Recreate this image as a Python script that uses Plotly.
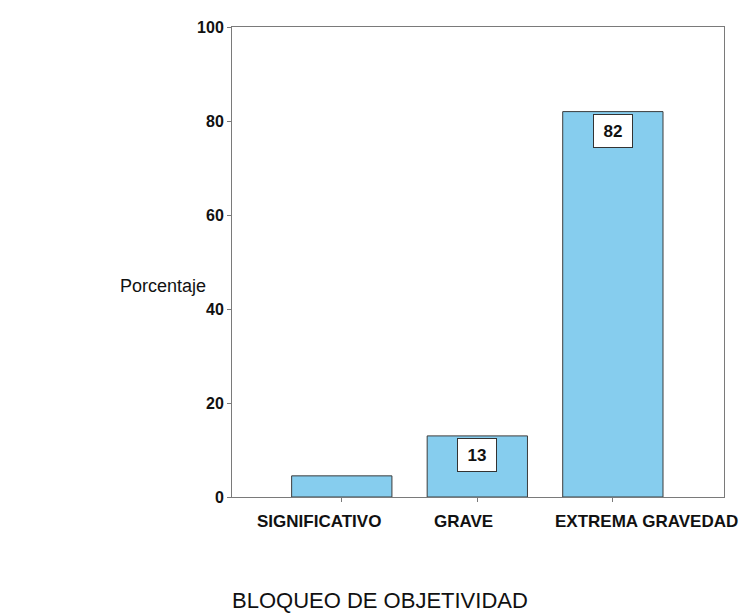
import plotly.graph_objects as go

categories = ['SIGNIFICATIVO', 'GRAVE', 'EXTREMA GRAVEDAD']
values = [4.5, 13, 82]
bar_labels = ['', '13', '82']
# label positions (left edge) along the category axis, as drawn in the original
label_pos = [-0.64, 0.666, 1.56]
y_ticks = [0, 20, 40, 60, 80, 100]

FONT = 'Liberation Sans, Arial, sans-serif'
BAR_COLOR = '#86cdee'
LINE_COLOR = '#7a7a7a'

fig = go.Figure(go.Bar(
    x=list(range(len(categories))),
    y=values,
    width=0.74,
    marker=dict(color=BAR_COLOR, line=dict(color='#3c3c3c', width=1)),
    hoverinfo='skip',
))

annotations = []
for i, (v, lab) in enumerate(zip(values, bar_labels)):
    if not lab:
        continue
    annotations.append(dict(
        x=i, y=v, xref='x', yref='y', text='<b>%s</b>' % lab,
        showarrow=False, yanchor='top', yshift=-2,
        bgcolor='white', bordercolor='#333333', borderwidth=1,
        borderpad=4, width=30, height=24,
        font=dict(family=FONT, size=17, color='#111111'),
    ))

for pos, cat in zip(label_pos, categories):
    annotations.append(dict(
        x=pos, y=0, xref='x', yref='paper', text='<b>%s</b>' % cat,
        showarrow=False, xanchor='left', yanchor='middle', yshift=-24,
        font=dict(family=FONT, size=17, color='#111111'),
    ))

annotations.append(dict(
    x=0, y=0.45, xref='paper', yref='paper', text='Porcentaje',
    showarrow=False, xanchor='center', yanchor='middle', xshift=-69,
    font=dict(family=FONT, size=18, color='#111111'),
))
annotations.append(dict(
    x=0.3, y=0, xref='paper', yref='paper', text='BLOQUEO DE OBJETIVIDAD',
    showarrow=False, xanchor='center', yanchor='middle', yshift=-103,
    font=dict(family=FONT, size=22, color='#111111'),
))

# the page body adds an 8px margin, so the figure is drawn 8px smaller
fig.update_layout(
    width=746, height=607,
    margin=dict(l=224, r=30, t=11, b=118),
    paper_bgcolor='white', plot_bgcolor='white',
    showlegend=False,
    annotations=annotations,
    font=dict(family=FONT, color='#111111'),
)
fig.update_xaxes(
    range=[-0.81, 2.82], tickvals=list(range(len(categories))),
    showticklabels=False, ticks='outside', ticklen=4, tickcolor=LINE_COLOR,
    showline=True, linecolor=LINE_COLOR, linewidth=1, mirror=True,
    showgrid=False, zeroline=False,
)
fig.update_yaxes(
    range=[0, 100], tickvals=y_ticks,
    ticktext=['<b>%d</b>' % t for t in y_ticks],
    ticks='outside', ticklen=4, tickcolor=LINE_COLOR,
    tickfont=dict(family=FONT, size=16, color='#111111'),
    showline=True, linecolor=LINE_COLOR, linewidth=1, mirror=True,
    showgrid=False, zeroline=False,
)

fig.write_html('out.html')
